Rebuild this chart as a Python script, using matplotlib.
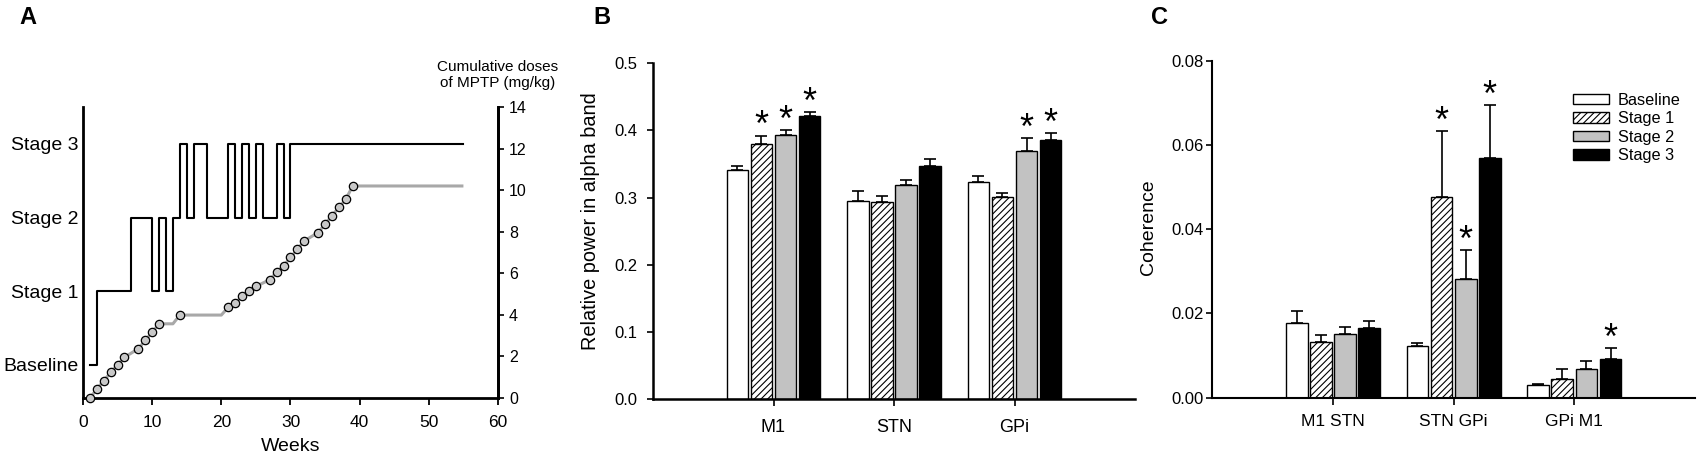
import matplotlib
matplotlib.use('Agg')
import matplotlib.pyplot as plt
import numpy as np

plt.rcParams['font.family'] = ['Liberation Sans', 'DejaVu Sans']
plt.rcParams['hatch.linewidth'] = 0.8

# ---------------- Panel A data ----------------
stage_labels = ['Baseline', 'Stage 1', 'Stage 2', 'Stage 3']
stage_weeks = [1, 2, 7, 10, 11, 12, 13, 14, 15, 16, 18, 21, 22, 23, 24, 25, 26, 28, 29, 30, 55]
stage_levels = [0, 1, 2, 1, 2, 1, 2, 3, 2, 3, 2, 3, 2, 3, 2, 3, 2, 3, 2, 3, 3]

dose_weeks = [1, 2, 3, 4, 5, 6, 8, 9, 10, 11, 14, 21, 22, 23, 24, 25, 27, 28, 29,
              30, 31, 32, 34, 35, 36, 37, 38, 39]
dose_values = [0.0, 0.43, 0.83, 1.23, 1.6, 1.96, 2.37, 2.77, 3.17, 3.57, 3.99, 4.37,
               4.57, 4.89, 5.16, 5.37, 5.69, 6.06, 6.36, 6.76, 7.16, 7.56, 7.96,
               8.37, 8.77, 9.17, 9.57, 10.2]
# plateau points of the cumulative line (no injection marker)
plateau_weeks = [13, 20, 55]
plateau_values = [3.57, 3.99, 10.2]

# ---------------- Panel B data ----------------
series_names = ['Baseline', 'Stage 1', 'Stage 2', 'Stage 3']
regions = ['M1', 'STN', 'GPi']
power_baseline = [0.341, 0.295, 0.323]
power_stage1 = [0.380, 0.293, 0.301]
power_stage2 = [0.393, 0.319, 0.370]
power_stage3 = [0.421, 0.347, 0.386]
power_err_baseline = [0.0066, 0.0155, 0.0096]
power_err_stage1 = [0.0125, 0.0089, 0.0064]
power_err_stage2 = [0.0080, 0.0073, 0.0190]
power_err_stage3 = [0.0060, 0.0100, 0.0099]
power_sig_baseline = [False, False, False]
power_sig_stage1 = [True, False, False]
power_sig_stage2 = [True, False, True]
power_sig_stage3 = [True, False, True]

# ---------------- Panel C data ----------------
pairs = ['M1 STN', 'STN GPi', 'GPi M1']
coh_baseline = [0.0177, 0.0122, 0.0031]
coh_stage1 = [0.0132, 0.0477, 0.0045]
coh_stage2 = [0.0152, 0.0281, 0.0069]
coh_stage3 = [0.0166, 0.0569, 0.0093]
coh_err_baseline = [0.0029, 0.0007, 0.0002]
coh_err_stage1 = [0.0016, 0.0155, 0.0024]
coh_err_stage2 = [0.0017, 0.0069, 0.0019]
coh_err_stage3 = [0.0017, 0.0125, 0.0025]
coh_sig_baseline = [False, False, False]
coh_sig_stage1 = [False, True, False]
coh_sig_stage2 = [False, True, False]
coh_sig_stage3 = [False, True, True]

# ---------------- styles ----------------
face_colors = ['white', 'white', '#c2c2c2', 'black']
hatches = [None, '/////', None, None]

W, H = 1700, 461
fig = plt.figure(figsize=(17, 4.61), dpi=100)


def rect(l, t, r, b):
    return [l / W, 1 - b / H, (r - l) / W, (b - t) / H]


axA = fig.add_axes(rect(83, 107, 498, 398))
axB = fig.add_axes(rect(653, 63.3, 1135, 399.3))
axC = fig.add_axes(rect(1212.3, 60.7, 1695, 397.7))

# ---------------- Panel A ----------------
axA.step(stage_weeks, stage_levels, where='post', color='black', lw=1.5, zorder=3)
axA.set_xlim(0, 60)
axA.set_ylim(-0.45, 3.5)
axA.set_yticks(range(len(stage_labels)))
axA.set_yticklabels(stage_labels)
axA.tick_params(axis='y', length=0, labelsize=14, pad=3)
axA.set_xticks(range(0, 61, 10))
axA.tick_params(axis='x', length=5, width=1.3, labelsize=12.5, pad=7)
axA.set_xlabel('Weeks', fontsize=14, labelpad=6)
for s in ['left', 'bottom', 'right']:
    axA.spines[s].set_linewidth(2)
axA.spines['top'].set_visible(False)

axA2 = axA.twinx()
line_pts = sorted(zip(dose_weeks + plateau_weeks, dose_values + plateau_values))
lx = [p[0] for p in line_pts]
ly = [p[1] for p in line_pts]
axA2.plot(lx, ly, color='#a8a8a8', lw=2.2, zorder=2, solid_capstyle='butt')
axA2.plot(dose_weeks, dose_values, linestyle='none', marker='o', markersize=6,
          markerfacecolor='#c8c8c8', markeredgecolor='black', markeredgewidth=0.9,
          zorder=4, clip_on=False)
axA2.set_ylim(0, 14)
axA2.set_yticks(range(0, 15, 2))
axA2.tick_params(axis='y', length=4, width=1.2, labelsize=11.5, pad=4)
for s in ['top', 'left', 'bottom']:
    axA2.spines[s].set_visible(False)
axA2.spines['right'].set_linewidth(2)
axA.text(1.0, 1.11, 'Cumulative doses\nof MPTP (mg/kg)', transform=axA.transAxes,
         ha='center', va='center', fontsize=11, linespacing=1.15, multialignment='center')


# ---------------- bar helper ----------------
def draw_bars(ax, vals, errs, sigs, star_size):
    handles = []
    n = len(vals)
    base = np.arange(1, len(vals[0]) + 1)
    for i in range(n):
        xs = base + (i - (n - 1) / 2) * 0.2
        b = ax.bar(xs, vals[i], width=0.18, color=face_colors[i], edgecolor='black',
                   linewidth=1.0, hatch=hatches[i], label=series_names[i], zorder=2,
                   yerr=[np.zeros(len(vals[i])), errs[i]],
                   error_kw=dict(ecolor='black', elinewidth=1.2, capsize=4.2, capthick=1.2, zorder=3))
        handles.append(b)
        for x, v, e, s in zip(xs, vals[i], errs[i], sigs[i]):
            if s:
                ax.annotate('*', (x, v + e), xytext=(0, -0.5), textcoords='offset points',
                            ha='center', va='baseline', fontsize=star_size)
    return handles


# ---------------- Panel B ----------------
draw_bars(axB,
          [power_baseline, power_stage1, power_stage2, power_stage3],
          [power_err_baseline, power_err_stage1, power_err_stage2, power_err_stage3],
          [power_sig_baseline, power_sig_stage1, power_sig_stage2, power_sig_stage3], 26)
axB.set_xlim(0, 4)
axB.set_ylim(0, 0.5)
axB.set_xticks([1, 2, 3])
axB.set_xticklabels(regions)
axB.set_yticks(np.arange(0, 0.51, 0.1))
axB.set_yticklabels(['%.1f' % v for v in np.arange(0, 0.51, 0.1)])
axB.tick_params(axis='x', length=5, width=1.2, labelsize=13, pad=9)
axB.tick_params(axis='y', length=4.5, width=1.2, labelsize=12, pad=7)
axB.set_ylabel('Relative power in alpha band', fontsize=14.3)
axB.yaxis.set_label_coords(-0.11, 0.529)
for s in ['top', 'right']:
    axB.spines[s].set_visible(False)
for s in ['left', 'bottom']:
    axB.spines[s].set_linewidth(1.8)

# ---------------- Panel C ----------------
hC = draw_bars(axC,
               [coh_baseline, coh_stage1, coh_stage2, coh_stage3],
               [coh_err_baseline, coh_err_stage1, coh_err_stage2, coh_err_stage3],
               [coh_sig_baseline, coh_sig_stage1, coh_sig_stage2, coh_sig_stage3], 26)
axC.set_xlim(0, 4)
axC.set_ylim(0, 0.08)
axC.set_xticks([1, 2, 3])
axC.set_xticklabels(pairs)
axC.set_yticks(np.arange(0, 0.081, 0.02))
axC.set_yticklabels(['%.2f' % v for v in np.arange(0, 0.081, 0.02)])
axC.tick_params(axis='x', length=5, width=1.2, labelsize=12.5, pad=7)
axC.tick_params(axis='y', length=4, width=1.2, labelsize=12, pad=2)
axC.set_ylabel('Coherence', fontsize=14)
axC.yaxis.set_label_coords(-0.115, 0.505)
for s in ['top', 'right']:
    axC.spines[s].set_visible(False)
for s in ['left', 'bottom']:
    axC.spines[s].set_linewidth(1.5)
leg = axC.legend(handles=hC, labels=series_names, loc='upper left',
                 bbox_to_anchor=(0.747, 0.905), frameon=False, fontsize=11.7,
                 handlelength=2.2, handleheight=0.62, handletextpad=0.55,
                 labelspacing=0.22, borderpad=0, borderaxespad=0)

# ---------------- panel letters ----------------
for lx_, txt in [(28, 'A'), (602, 'B'), (1160, 'C')]:
    fig.text(lx_ / W, 1 - 18 / H, txt, fontsize=17, fontweight='bold', ha='center', va='center')

fig.savefig('out.png', dpi=100)
